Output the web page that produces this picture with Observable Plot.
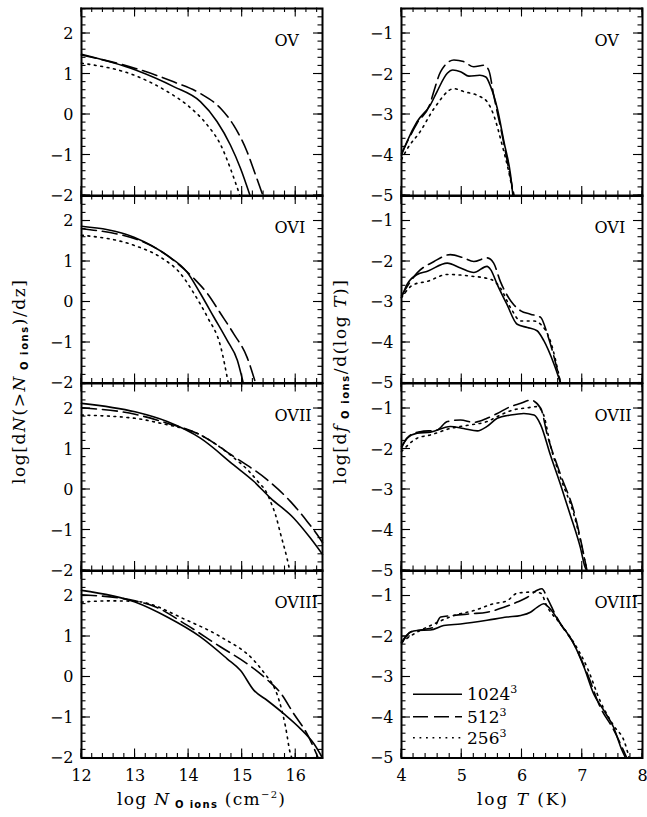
<!DOCTYPE html>
<html><head><meta charset="utf-8">
<script src="https://cdn.jsdelivr.net/npm/d3@7"></script>
<script src="https://cdn.jsdelivr.net/npm/@observablehq/plot@0.6"></script>
<style>
html,body{margin:0;padding:0;background:#fff;overflow:hidden;}
#wrap{position:relative;width:647px;height:817px;background:#fff;}
#wrap svg{position:absolute;}
</style></head><body><div id="wrap"></div>
<script>
// ---------- labels ----------
const ionLabels = ["OV", "OVI", "OVII", "OVIII"];
const resolutions = ["1024", "512", "256"];
const leftXTicks = [12, 13, 14, 15, 16];
const leftYTicks = [-2, -1, 0, 1, 2];
const rightXTicks = [4, 5, 6, 7, 8];
const rightYTicks = [-5, -4, -3, -2, -1];

// ---------- left column: log dN(>N)/dz vs log N ----------
const OV_N_1024 = [[12,1.50],[13.01,1.11],[13.72,0.70],[14.22,0.33],[14.53,-0.16],[14.78,-0.74],[14.97,-1.32],[15.15,-2.0]];
const OV_N_512  = [[12,1.48],[13.01,1.15],[13.72,0.82],[14.22,0.53],[14.6,0.16],[14.84,-0.25],[15.09,-0.9],[15.25,-1.48],[15.39,-2.0]];
const OV_N_256  = [[12,1.28],[13.01,0.97],[13.6,0.58],[13.97,0.25],[14.35,-0.25],[14.6,-0.74],[14.78,-1.32],[14.96,-2.0]];

const OVI_N_1024 = [[12,1.87],[12.98,1.60],[13.6,1.15],[13.97,0.74],[14.22,0.21],[14.47,-0.37],[14.72,-0.95],[14.91,-1.44],[15.02,-2.0]];
const OVI_N_512  = [[12,1.81],[13.23,1.44],[13.72,1.03],[14.10,0.58],[14.35,0.21],[14.6,-0.29],[14.84,-0.78],[15.09,-1.36],[15.25,-2.0]];
const OVI_N_256  = [[12,1.65],[12.98,1.40],[13.47,1.11],[13.85,0.70],[14.1,0.21],[14.35,-0.37],[14.6,-1.11],[14.74,-2.0]];

const OVII_N_1024 = [[12,2.14],[13,1.93],[13.6,1.69],[14.22,1.28],[14.84,0.62],[15.22,0.21],[15.53,-0.2],[15.96,-0.69],[16.27,-1.18],[16.5,-1.59]];
const OVII_N_512  = [[12,2.03],[13,1.87],[13.6,1.65],[14.22,1.36],[14.84,0.83],[15.47,0.25],[15.9,-0.28],[16.21,-0.77],[16.4,-1.10],[16.5,-1.3]];
const OVII_N_256  = [[12,1.85],[13,1.77],[13.47,1.65],[14.22,1.36],[14.84,0.80],[15.1,0.5],[15.3,0.2],[15.45,-0.05],[15.55,-0.35],[15.62,-0.6],[15.72,-1.1],[15.84,-1.7],[15.89,-2.0]];

const OVIII_N_1024 = [[12,2.14],[13,1.85],[13.6,1.48],[14.22,0.99],[14.72,0.45],[14.97,0.16],[15.22,-0.33],[15.47,-0.58],[15.78,-0.91],[16.09,-1.28],[16.34,-1.65],[16.5,-2.0]];
const OVIII_N_512  = [[12,2.03],[13,1.88],[13.35,1.75],[13.97,1.28],[14.6,0.74],[15.09,0.33],[15.47,-0.07],[15.72,-0.4],[15.96,-0.9],[16.21,-1.4],[16.42,-2.0]];
const OVIII_N_256  = [[12,1.85],[12.5,1.88],[13,1.87],[13.97,1.40],[14.6,0.99],[15.22,0.41],[15.47,0.0],[15.56,-0.16],[15.69,-0.58],[15.81,-1.23],[15.9,-1.89],[15.93,-2.0]];

// ---------- right column: log df/dlogT vs log T ----------
const OV_T_1024 = [[4,-3.99],[4.09,-3.66],[4.26,-3.16],[4.48,-2.75],[4.59,-2.42],[4.76,-1.97],[4.85,-1.89],[4.98,-1.93],[5.12,-2.04],[5.3,-2.02],[5.4,-2.06],[5.48,-2.3],[5.59,-2.84],[5.7,-3.66],[5.81,-4.48],[5.85,-5.0]];
const OV_T_512  = [[4,-3.95],[4.26,-3.2],[4.48,-2.7],[4.54,-2.4],[4.65,-1.93],[4.87,-1.64],[5.03,-1.68],[5.2,-1.81],[5.37,-1.77],[5.45,-1.9],[5.53,-2.51],[5.67,-3.49],[5.81,-4.56],[5.87,-5.0]];
const OV_T_256  = [[4,-4.1],[4.09,-3.85],[4.31,-3.41],[4.54,-2.84],[4.87,-2.35],[5.03,-2.42],[5.31,-2.55],[5.42,-2.67],[5.53,-3.0],[5.67,-3.74],[5.78,-4.4],[5.86,-5.0]];

const OVI_T_1024 = [[4,-2.89],[4.09,-2.57],[4.26,-2.32],[4.43,-2.24],[4.76,-2.04],[4.98,-2.16],[5.2,-2.27],[5.42,-2.12],[5.48,-2.2],[5.59,-2.57],[5.75,-3.06],[5.92,-3.55],[6.09,-3.63],[6.25,-3.71],[6.36,-3.95],[6.53,-4.53],[6.64,-5.0]];
const OVI_T_512  = [[4,-2.85],[4.26,-2.28],[4.54,-2.0],[4.81,-1.83],[5.03,-1.91],[5.2,-2.0],[5.42,-1.91],[5.53,-2.04],[5.64,-2.49],[5.86,-3.06],[5.98,-3.22],[6.14,-3.30],[6.31,-3.38],[6.42,-3.79],[6.64,-5.0]];
const OVI_T_256  = [[4,-2.89],[4.2,-2.57],[4.43,-2.49],[4.76,-2.32],[5.15,-2.36],[5.48,-2.44],[5.64,-2.65],[5.81,-3.14],[5.98,-3.47],[6.2,-3.47],[6.31,-3.55],[6.47,-3.96],[6.64,-5.0]];

const OVII_T_1024 = [[4,-1.97],[4.09,-1.72],[4.26,-1.6],[4.48,-1.57],[4.81,-1.43],[5.03,-1.48],[5.26,-1.54],[5.42,-1.43],[5.59,-1.23],[5.81,-1.15],[6.03,-1.11],[6.2,-1.15],[6.31,-1.39],[6.47,-2.13],[6.64,-2.87],[6.8,-3.61],[6.97,-4.43],[7.05,-4.92],[7.08,-5.0]];
const OVII_T_512  = [[4,-1.93],[4.15,-1.64],[4.31,-1.56],[4.59,-1.52],[4.76,-1.31],[4.98,-1.27],[5.2,-1.33],[5.42,-1.23],[5.59,-1.11],[5.81,-0.94],[5.98,-0.86],[6.14,-0.78],[6.31,-0.98],[6.42,-1.64],[6.64,-2.62],[6.86,-3.52],[7.08,-5.0]];
const OVII_T_256  = [[4,-2.05],[4.26,-1.72],[4.48,-1.64],[4.81,-1.48],[5.15,-1.39],[5.42,-1.31],[5.64,-1.15],[5.86,-1.02],[6.09,-0.97],[6.25,-0.94],[6.36,-1.15],[6.47,-1.89],[6.64,-2.7],[6.86,-3.6],[7.08,-5.0]];

const OVIII_T_1024 = [[4,-2.18],[4.15,-1.89],[4.26,-1.85],[4.48,-1.84],[4.7,-1.73],[4.98,-1.69],[5.42,-1.6],[5.75,-1.52],[5.98,-1.48],[6.14,-1.4],[6.25,-1.28],[6.36,-1.19],[6.47,-1.32],[6.64,-1.69],[6.86,-2.18],[7.03,-2.76],[7.19,-3.42],[7.36,-3.83],[7.52,-4.24],[7.66,-4.81],[7.72,-5.0]];
const OVIII_T_512  = [[4,-2.14],[4.15,-1.89],[4.31,-1.84],[4.54,-1.77],[4.65,-1.52],[4.87,-1.48],[5.15,-1.44],[5.42,-1.4],[5.7,-1.28],[5.92,-1.15],[6.09,-1.03],[6.25,-0.86],[6.33,-0.82],[6.42,-1.05],[6.55,-1.45],[6.64,-1.69],[6.86,-2.18],[7.08,-2.9],[7.3,-3.75],[7.52,-4.3],[7.68,-4.8],[7.74,-5.0]];
const OVIII_T_256  = [[4,-2.14],[4.26,-1.89],[4.54,-1.69],[4.87,-1.48],[5.2,-1.36],[5.53,-1.19],[5.75,-1.12],[5.92,-0.93],[6.2,-0.90],[6.31,-0.93],[6.42,-1.27],[6.64,-1.69],[6.86,-2.15],[7.08,-2.76],[7.3,-3.6],[7.52,-4.2],[7.7,-4.6],[7.78,-5.0]];

const leftSeries = [
  [OV_N_1024, OV_N_512, OV_N_256],
  [OVI_N_1024, OVI_N_512, OVI_N_256],
  [OVII_N_1024, OVII_N_512, OVII_N_256],
  [OVIII_N_1024, OVIII_N_512, OVIII_N_256]
];
const rightSeries = [
  [OV_T_1024, OV_T_512, OV_T_256],
  [OVI_T_1024, OVI_T_512, OVI_T_256],
  [OVII_T_1024, OVII_T_512, OVII_T_256],
  [OVIII_T_1024, OVIII_T_512, OVIII_T_256]
];

// ---------- styling / layout ----------
const FONT = "DejaVu Serif, serif";
const dashes = [null, "15,6", "1.8,4.7"];
const PANEL_H = 187.5, TOP0 = 7.5, MT = 20;
const minus = d => d < 0 ? "\u2212" + Math.abs(d) : String(d);

const columns = [
  {left: 0, width: 330, mr: 8, xDomain: [12, 16.5], yDomain: [-2, 2.63],
   xTicks: leftXTicks, yTicks: leftYTicks,
   xMinor: d3.range(12, 16.51, 0.2), yMinor: d3.range(-2, 2.61, 0.2), series: leftSeries},
  {left: 320, width: 327, mr: 5, xDomain: [4, 8], yDomain: [-5, -0.37],
   xTicks: rightXTicks, yTicks: rightYTicks,
   xMinor: d3.range(4, 8.01, 0.2), yMinor: d3.range(-5, -0.39, 0.2), series: rightSeries}
];

const wrap = document.getElementById("wrap");
const tickSegs = [];   // inward ticks, positioned with each panel's Plot scales

columns.forEach(col => {
  col.series.forEach((trio, row) => {
    const bottom = row === 3;
    const MB = bottom ? 40 : 12;
    const marks = [];
    trio.forEach((data, k) => {
      marks.push(Plot.line(data, {x: d => d[0], y: d => d[1], curve: "monotone-x",
        stroke: "black", strokeWidth: 1.6, strokeDasharray: dashes[k]}));
    });
    marks.push(Plot.frame({strokeWidth: 2}));
    marks.push(Plot.axisY({ticks: col.yTicks, tickSize: 0, tickPadding: 8, tickFormat: minus, label: null, fontSize: 16}));
    if (bottom) marks.push(Plot.axisX({ticks: col.xTicks, tickSize: 0, tickPadding: 12, tickFormat: minus, label: null, fontSize: 16}));
    marks.push(Plot.text([ionLabels[row]], {frameAnchor: "top-left", dx: 193, dy: 32,
      textAnchor: "start", lineAnchor: "middle", fontSize: 16}));
    const svg = Plot.plot({
      width: col.width, height: MT + PANEL_H + MB,
      marginLeft: 81, marginRight: col.mr, marginTop: MT, marginBottom: MB,
      x: bottom ? {domain: col.xDomain} : {domain: col.xDomain, axis: null},
      y: {domain: col.yDomain},
      style: {background: "none", overflow: "visible", fontFamily: FONT, fontSize: "16px", color: "black"},
      marks
    });
    const ox = col.left, oy = TOP0 + row * PANEL_H - MT;
    svg.style.position = "absolute";
    svg.style.left = ox + "px";
    svg.style.top = oy + "px";
    wrap.appendChild(svg);

    // ticks from the panel's own scales
    const sx = svg.scale("x"), sy = svg.scale("y");
    const X = v => ox + sx.apply(v), Y = v => oy + sy.apply(v);
    const L = X(col.xDomain[0]), R = X(col.xDomain[1]);
    const B = Y(col.yDomain[0]), T = Y(col.yDomain[1]);
    [[col.xMinor, 4.5], [col.xTicks, 9]].forEach(([vals, len]) => vals.forEach(v => {
      tickSegs.push([X(v), B, X(v), B - len]);
      tickSegs.push([X(v), T, X(v), T + len]);
    }));
    [[col.yMinor, 4.5], [col.yTicks, 9]].forEach(([vals, len]) => vals.forEach(v => {
      tickSegs.push([L, Y(v), L + len, Y(v)]);
      tickSegs.push([R, Y(v), R - len, Y(v)]);
    }));
  });
});

// ---------- overlay: ticks, axis titles and legend ----------
const ov = d3.select(wrap).append("svg")
  .attr("width", 647).attr("height", 817)
  .style("left", "0px").style("top", "0px").style("pointer-events", "none")
  .attr("font-family", FONT).attr("font-size", 17).attr("fill", "black");

ov.append("g").attr("stroke", "black").attr("stroke-width", 1.1)
  .selectAll("line").data(tickSegs).join("line")
  .attr("x1", d => d[0]).attr("y1", d => d[1]).attr("x2", d => d[2]).attr("y2", d => d[3]);

const sub = `font-family="DejaVu Sans" font-weight="bold" font-size="10"`;
ov.append("text")
  .attr("transform", "translate(25,382) rotate(-90)")
  .attr("text-anchor", "middle").attr("textLength", 204).attr("lengthAdjust", "spacing")
  .html(`log[d<tspan font-style="italic">N</tspan>(&gt;<tspan font-style="italic">N</tspan><tspan ${sub} dy="3"> O ions</tspan><tspan dy="-3">)/dz]</tspan>`);
ov.append("text")
  .attr("transform", "translate(346,382) rotate(-90)")
  .attr("text-anchor", "middle").attr("textLength", 204).attr("lengthAdjust", "spacing")
  .html(`log[d<tspan font-style="italic">f</tspan><tspan ${sub} dy="3"> O ions</tspan><tspan dy="-3">/d(log </tspan><tspan font-style="italic">T</tspan>)]`);
ov.append("text")
  .attr("x", 201).attr("y", 805)
  .attr("text-anchor", "middle").attr("textLength", 168).attr("lengthAdjust", "spacing")
  .html(`log <tspan font-style="italic">N</tspan><tspan ${sub} dy="3"> O ions</tspan><tspan dy="-3">  (cm</tspan><tspan font-size="10" dy="-7">\u22122</tspan><tspan dy="7">)</tspan>`);
ov.append("text")
  .attr("x", 522).attr("y", 805)
  .attr("text-anchor", "middle").attr("textLength", 90).attr("lengthAdjust", "spacing")
  .html(`log <tspan font-style="italic">T</tspan>  (K)`);

// legend
const legY = [694.3, 716.7, 737.7];
resolutions.forEach((r, k) => {
  ov.append("line").attr("x1", 413).attr("x2", 462).attr("y1", legY[k]).attr("y2", legY[k])
    .attr("stroke", "black").attr("stroke-width", 1.6).attr("stroke-dasharray", dashes[k]);
  ov.append("text").attr("x", 467).attr("y", legY[k] + 6).attr("font-size", 17)
    .html(`${r}<tspan font-size="11" dy="-7">3</tspan>`);
});
</script>
</body></html>
